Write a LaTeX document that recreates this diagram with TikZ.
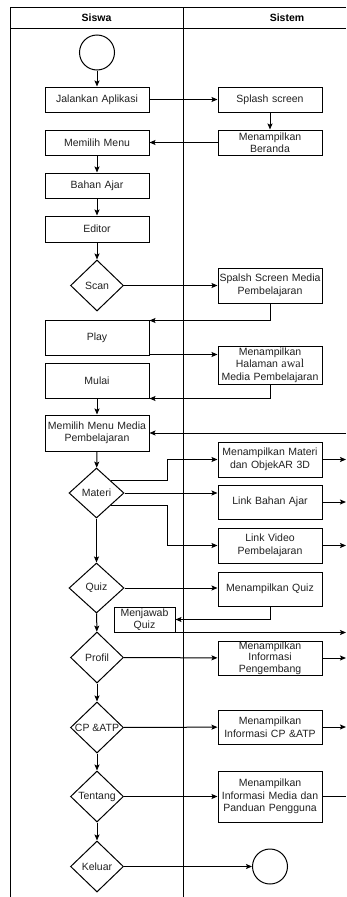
\documentclass[tikz,border=0pt]{standalone}
\usepackage{fontspec}
\setmainfont{Liberation Sans}
\newfontfamily\serifawal{Liberation Serif}
\usetikzlibrary{arrows.meta,shapes.geometric,calc}
\definecolor{txt}{HTML}{222222}
\begin{document}
\begin{tikzpicture}[x=1pt,y=-1pt,
  line width=1pt,
  every node/.style={font=\fontsize{10.5pt}{12.5pt}\selectfont, text=txt},
  abox/.style={draw, rectangle, inner sep=0.5pt, align=center, text width=103pt, minimum width=104pt},
  sbox/.style={draw, rectangle, inner sep=0.5pt, align=center},
  dia/.style={draw, diamond, inner sep=0pt, minimum width=53pt, minimum height=51pt},
  term/.style={draw, circle, inner sep=0pt, minimum size=35pt},
  arr/.style={-{Stealth[length=6pt,width=5pt,inset=1.2pt]}},
  hdr/.style={font=\fontsize{10.5pt}{12.5pt}\selectfont\bfseries, text=black}
]
\fill[white] (0,0) rectangle (346,897);
\useasboundingbox (0,0) rectangle (346,897);
% swimlanes
\draw (10,897) -- (10,7) -- (346,7);
\draw (10,28) -- (346,28);
\draw (183,7) -- (183,897);
\node[hdr] (hsiswa) at (96.5,17.5) {Siswa};
\node[hdr] (hsistem) at (287,17.5) {Sistem};
\coordinate (R) at (346,0);
\coordinate (in1) at (346,433);

% Siswa lane
\node[term] (start) at (97,52.5) {};
\node[abox, minimum height=25pt] (jal) at (97,99.5) {Jalankan Aplikasi};
\node[abox, minimum height=25pt] (mm) at (97,142.5) {Memilih Menu};
\node[abox, minimum height=25pt] (ba) at (97,185.5) {Bahan Ajar};
\node[abox, minimum height=26pt] (ed) at (97,229) {Editor};
\node[dia, label={center:Scan}] (scan) at (97,285.5) {};
\node[abox, minimum height=35pt] (play) at (97,337.5) {Play};
\node[abox, minimum height=35pt] (mulai) at (97,380.5) {Mulai};
\node[abox, minimum height=36pt] (mmm) at (97,433) {Memilih Menu Media\\Pembelajaran};
\node[dia, minimum width=55pt, minimum height=50pt, label={center:Materi}] (materi) at (96.5,493) {};
\node[dia, minimum width=55pt, minimum height=50pt, label={center:Quiz}] (quiz) at (96.5,588) {};
\node[sbox, minimum width=61pt, minimum height=25pt] (mjq) at (144.5,619.5) {Menjawab\\Quiz};
\node[dia, label={center:Profil}] (profil) at (97,657.5) {};
\node[dia, label={center:CP \&ATP}] (cp) at (97,727.5) {};
\node[dia, label={center:Tentang}] (tentang) at (97,796.5) {};
\node[dia, label={center:Keluar}] (keluar) at (97,866.5) {};

% Sistem lane
\node[abox, minimum height=25pt] (ss) at (270,99.5) {Splash screen};
\node[abox, minimum height=25pt] (mb) at (270,142.5) {Menampilkan\\Beranda};
\node[abox, minimum height=35pt] (ssm) at (270,285.5) {Spalsh Screen Media\\Pembelajaran};
\node[abox, minimum height=38pt] (mha) at (270,365) {Menampilkan\\Halaman {\serifawal\fontsize{12pt}{12.5pt}\selectfont awal}\\Media Pembelajaran};
\node[abox, minimum height=35pt] (mmo) at (270,459.5) {Menampilkan Materi\\dan ObjekAR 3D};
\node[abox, minimum height=34pt] (lba) at (270,502) {Link Bahan Ajar};
\node[abox, minimum height=35pt] (lvp) at (270,545.5) {Link Video\\Pembelajaran};
\node[abox, minimum height=34pt] (mqz) at (270,589) {Menampilkan Quiz};
\node[abox, minimum height=34pt, font=\fontsize{10.5pt}{11.5pt}\selectfont] (mip) at (270,658) {Menampilkan\\Informasi\\Pengembang};
\node[abox, minimum height=34pt] (mcp) at (270,727) {Menampilkan\\Informasi CP \&ATP};
\node[abox, minimum height=51pt] (mim) at (270,796.5) {Menampilkan\\Informasi Media dan\\Panduan Pengguna};
\node[term] (stop) at (270,866.5) {};

% connectors
\draw[arr] (start) -- (jal);
\draw[arr] (jal) -- (ss);
\draw[arr] (ss) -- (mb);
\draw[arr] (mb) -- (mm);
\draw[arr] (mm) -- (ba);
\draw[arr] (ba) -- (ed);
\draw[arr] (ed) -- (scan);
\draw[arr] (scan) -- (ssm);
\draw[arr] (ssm.south) |- ([yshift=-1pt]play.north east);
\draw[arr] ([yshift=1pt]play.south east) -- ([yshift=1pt]play.south east -| mha.west);
\draw[arr] (mha.south) |- (mulai.south east);
\draw[arr] (mulai) -- (mmm);
\draw[arr] (in1) -- (mmm.east);
\draw[arr] (mmm) -- (materi);
\draw[arr] (materi.north east) -- ++(56.5,0) |- (mmo.west);
\draw[arr] (materi.east) -- (materi.east -| lba.west);
\draw[arr] (materi.south east) -- ++(56.5,0) |- (lvp.west);
\draw[arr] (mmo.east) -- (mmo.east -| R);
\draw[arr] (lba.east) -- (lba.east -| R);
\draw[arr] (lvp.east) -- (lvp.east -| R);
\draw[arr] (materi) -- (quiz);
\draw[arr] (quiz) -- (quiz.east -| mqz.west);
\draw[arr] (mqz.south) |- (mjq.east);
\draw[arr] (mjq.south east) -- (mjq.south east -| R);
\draw[arr] (quiz) -- (profil);
\draw[arr] (profil) -- (mip);
\draw[arr] (mip.east) -- (mip.east -| R);
\draw[arr] (profil) -- (cp);
\draw[arr] (cp) -- (mcp);
\draw[arr] (mcp.east) -- (mcp.east -| R);
\draw[arr] (cp) -- (tentang);
\draw[arr] (tentang) -- (mim);
\draw (mim.east) -- (mim.east -| R);
\draw[arr] (tentang) -- (keluar);
\draw[arr] (keluar) -- (stop);
\end{tikzpicture}
\end{document}
